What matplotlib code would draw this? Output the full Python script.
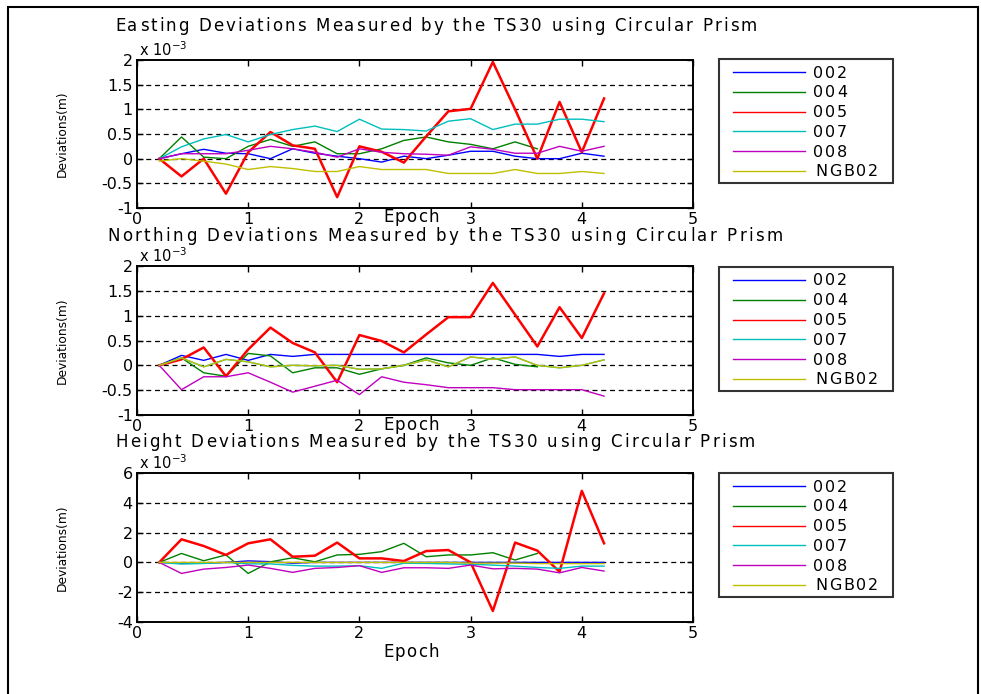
#!/usr/bin/env python3
"""TS30 circular prism deviations: easting, northing and height per epoch."""

import matplotlib

matplotlib.use("Agg")
import matplotlib.pyplot as plt
import numpy as np
from matplotlib.font_manager import FontProperties
from matplotlib.lines import Line2D
from matplotlib.patches import Rectangle

nan = np.nan

epochs = [0.2, 0.4, 0.6, 0.8, 1.0, 1.2, 1.4, 1.6, 1.8, 2.0, 2.2,
          2.4, 2.6, 2.8, 3.0, 3.2, 3.4, 3.6, 3.8, 4.0, 4.2]
station_names = ["002", "004", "005", "007", "008", "NGB02"]

# deviations in units of 1e-3 m
east_002 = [0, 0.1, 0.19, 0.11, 0.1, 0.0, 0.2, 0.11, 0.05, 0.0, -0.07, 0.05, 0.0, 0.07, 0.15, 0.15, 0.05, 0.0, 0.0, 0.11, 0.05]
east_004 = [0, 0.44, 0.03, 0.0, 0.25, 0.39, 0.25, 0.34, 0.1, 0.1, 0.2, 0.37, 0.44, 0.34, 0.29, 0.2, 0.34, 0.2, nan, nan, nan]
east_005 = [0, -0.36, 0.0, -0.71, 0.13, 0.54, 0.27, 0.2, -0.78, 0.25, 0.14, -0.08, 0.45, 0.96, 1.01, 1.96, 1.0, 0.0, 1.15, 0.13, 1.22]
east_007 = [0, 0.24, 0.4, 0.49, 0.34, 0.49, 0.59, 0.66, 0.55, 0.8, 0.6, 0.59, 0.56, 0.76, 0.81, 0.59, 0.7, 0.7, 0.8, 0.8, 0.75]
east_008 = [0, 0.1, 0.1, 0.1, 0.17, 0.25, 0.2, 0.13, 0.03, 0.2, 0.13, 0.1, 0.09, 0.07, 0.24, 0.19, 0.11, 0.11, 0.25, 0.15, 0.25]
east_ngb02 = [-0.05, 0.0, -0.05, -0.11, -0.22, -0.16, -0.2, -0.26, -0.26, -0.16, -0.22, -0.22, -0.22, -0.3, -0.3, -0.3, -0.22, -0.3, -0.3, -0.26, -0.3]

north_002 = [0, 0.2, 0.1, 0.22, 0.1, 0.22, 0.18, 0.22, 0.22, 0.22, 0.22, 0.22, 0.22, 0.22, 0.22, 0.22, 0.22, 0.22, 0.18, 0.22, 0.22]
north_004 = [0, 0.15, -0.15, -0.22, 0.24, 0.19, -0.15, -0.05, -0.05, -0.18, -0.07, 0.0, 0.15, 0.05, 0.0, 0.15, 0.02, -0.03, nan, nan, nan]
north_005 = [0, 0.12, 0.36, -0.22, 0.32, 0.76, 0.45, 0.26, -0.34, 0.61, 0.49, 0.26, 0.62, 0.97, 0.97, 1.66, 1.02, 0.38, 1.17, 0.55, 1.45]
north_007 = [0, 0.15, -0.03, 0.12, 0.07, -0.03, 0.0, -0.01, 0.0, -0.08, -0.07, 0.0, 0.11, -0.03, 0.17, 0.12, 0.17, 0.0, -0.05, 0.0, 0.11]
north_008 = [0, -0.49, -0.23, -0.23, -0.15, -0.34, -0.54, -0.42, -0.3, -0.59, -0.23, -0.34, -0.39, -0.45, -0.45, -0.45, -0.49, -0.49, -0.49, -0.49, -0.62]
north_ngb02 = [0, 0.15, -0.03, 0.12, 0.07, -0.03, 0.0, -0.01, 0.0, -0.08, -0.07, 0.0, 0.11, -0.03, 0.17, 0.12, 0.17, 0.0, -0.05, 0.0, 0.11]

height_002 = [0, -0.05, -0.05, 0.0, 0.1, 0.05, -0.05, 0, 0, 0, 0, 0, 0, 0, 0, 0, 0, 0, 0, 0, 0]
height_004 = [0, 0.6, 0.11, 0.5, -0.74, 0.04, 0.31, 0.04, 0.5, 0.54, 0.72, 1.28, 0.38, 0.5, 0.5, 0.65, 0.16, 0.6, nan, nan, nan]
height_005 = [0, 1.55, 1.1, 0.5, 1.28, 1.55, 0.38, 0.45, 1.33, 0.27, 0.27, 0.09, 0.76, 0.83, 0.0, -3.26, 1.33, 0.79, -0.63, 4.8, 1.28]
height_007 = [0, -0.11, -0.07, 0.0, -0.1, -0.1, -0.2, -0.25, -0.25, -0.22, -0.4, -0.05, -0.07, -0.1, -0.13, -0.18, -0.25, -0.34, -0.4, -0.25, -0.25]
height_008 = [0, -0.74, -0.45, -0.34, -0.18, -0.4, -0.67, -0.4, -0.34, -0.22, -0.67, -0.36, -0.36, -0.4, -0.18, -0.43, -0.4, -0.45, -0.7, -0.34, -0.58]
height_ngb02 = [0, 0, 0, 0, 0, 0, 0, 0, 0, 0, 0, 0, 0, 0, -0.05, -0.05, -0.05, -0.08, -0.08, -0.08, -0.08]

x_ticks = [0, 1, 2, 3, 4, 5]
east_ticks = [-1, -0.5, 0, 0.5, 1, 1.5, 2]
height_ticks = [-4, -2, 0, 2, 4, 6]

colors = ["#0000ff", "#008000", "#ff0000", "#00bfbf", "#bf00bf", "#bfbf00"]
widths = [1.0, 1.0, 1.8, 1.0, 1.0, 1.0]

W, H = 981, 694
FONT = ["DejaVu Sans"]
plt.rcParams["font.family"] = FONT


def fx(px):
    return px / W


def fy(py):
    return 1 - py / H


def text_width(renderer, s, fp):
    w, _, _ = renderer.get_text_width_height_descent(s, fp, ismath=False)
    return w


def spaced_text(fig, renderer, x0, baseline, s, size, tracking=0.0, width=None, center=False):
    # the old screen font is set wide, so lay the letters out one by one
    fp = FontProperties(family=FONT, size=size)
    bar = text_width(renderer, "|", fp)
    offsets = [0.0] + [text_width(renderer, s[:i] + "|", fp) - bar for i in range(1, len(s))]
    natural = text_width(renderer, s, fp)
    if width is not None:
        tracking = (width - natural) / (len(s) - 1)
    total = natural + tracking * (len(s) - 1)
    if center:
        x0 = x0 - total / 2
    for i, ch in enumerate(s):
        if ch == " ":
            continue
        fig.text(fx(x0 + offsets[i] + i * tracking), fy(baseline), ch,
                 fontproperties=fp, ha="left", va="baseline")


def draw_legend(fig, renderer, top):
    left, right, bottom = 719, 893, top + 124
    fig.patches.append(Rectangle((fx(left), fy(bottom)), fx(right) - fx(left), fy(top) - fy(bottom),
                                 transform=fig.transFigure, fill=False,
                                 edgecolor="#333333", linewidth=1.5))
    for i, (name, color) in enumerate(zip(station_names, colors)):
        y = top + 13 + i * 19.8
        fig.lines.append(Line2D([fx(733), fx(805)], [fy(y), fy(y)], color=color,
                                linewidth=1.0, transform=fig.transFigure))
        spaced_text(fig, renderer, 813 + (2 if name == "NGB02" else 0), y + 5.5, name, 11.5, tracking=1.8)


def add_panel(fig, renderer, top, bottom, series, ticks, title, title_span, title_base, xlabel_base):
    ax = fig.add_axes([fx(137), fy(bottom), fx(693) - fx(137), fy(top) - fy(bottom)])
    for values, color, lw in zip(series, colors, widths):
        ax.plot(epochs, values, color=color, linewidth=lw)
    ax.set_xlim(0, 5)
    ax.set_ylim(ticks[0], ticks[-1])
    ax.set_xticks(x_ticks)
    ax.set_yticks(ticks)
    ax.set_yticklabels([f"{t:g}" for t in ticks])
    for t in ticks[1:-1]:
        ax.axhline(t, color="black", linestyle=(0, (4, 3)), linewidth=0.9, zorder=0)
    ax.tick_params(direction="in", top=True, right=True, length=4, width=1,
                   labelsize=11.5, pad=3)
    for spine in ax.spines.values():
        spine.set_linewidth(1.4)

    spaced_text(fig, renderer, title_span[0], title_base, title, 12,
                width=title_span[1] - title_span[0])
    fig.text(fx(139), fy(top - 4), r"x 10$^{-3}$", fontsize=10.5, ha="left", va="baseline")
    fig.text(fx(62), fy((top + bottom) / 2), "Deviations(m)", fontsize=8.8,
             rotation=90, ha="center", va="center")
    spaced_text(fig, renderer, 411, xlabel_base, "Epoch", 12, tracking=1.2, center=True)
    return ax


fig = plt.figure(figsize=(W / 100, H / 100), dpi=100)
renderer = fig.canvas.get_renderer()
fig.patches.append(Rectangle((fx(8), fy(760)), fx(978) - fx(8), fy(7) - fy(760),
                             transform=fig.transFigure, fill=False,
                             edgecolor="black", linewidth=1.5))

add_panel(fig, renderer, 60, 208,
          [east_002, east_004, east_005, east_007, east_008, east_ngb02],
          east_ticks, "Easting Deviations Measured by the TS30 using Circular Prism",
          (115, 757), 31, 222)
add_panel(fig, renderer, 266, 415,
          [north_002, north_004, north_005, north_007, north_008, north_ngb02],
          east_ticks, "Northing Deviations Measured by the TS30 using Circular Prism",
          (107, 783), 241, 430)
add_panel(fig, renderer, 473, 622,
          [height_002, height_004, height_005, height_007, height_008, height_ngb02],
          height_ticks, "Height Deviations Measured by the TS30 using Circular Prism",
          (115, 755), 447, 657)

for legend_top in (59, 267, 473):
    draw_legend(fig, renderer, legend_top)

fig.savefig("out.png", dpi=100)
print("Wrote out.png")
